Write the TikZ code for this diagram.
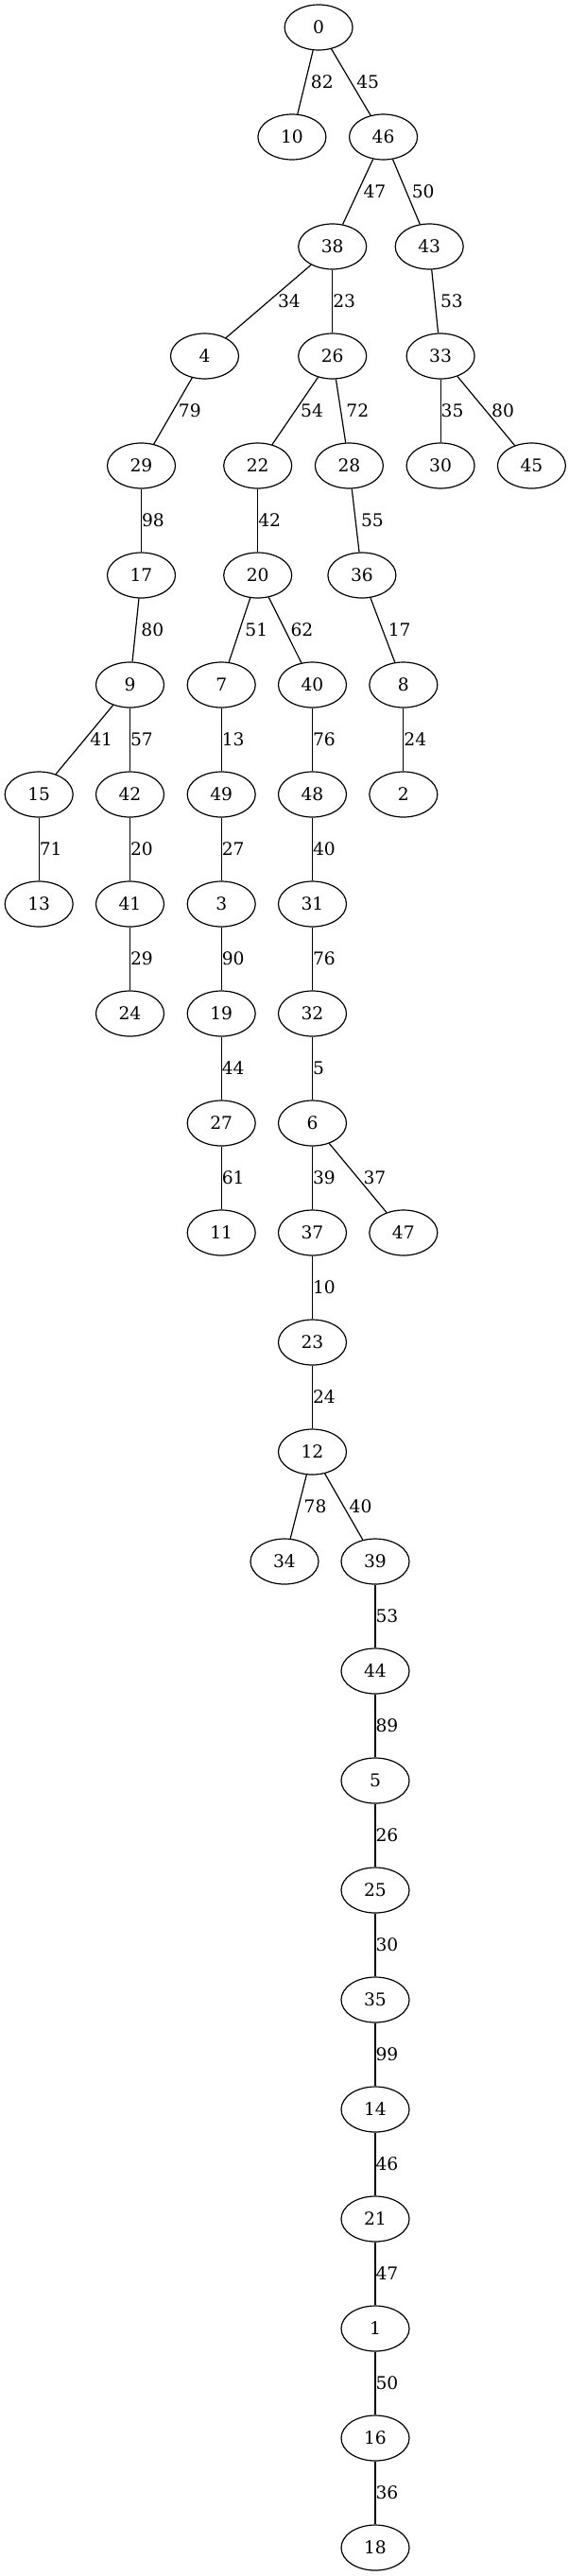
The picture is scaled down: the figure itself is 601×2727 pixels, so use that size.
\documentclass[tikz,border=0pt]{standalone}
\usepackage{fontspec}
\setmainfont{DejaVu Serif}
\usepackage{tikz}
\usetikzlibrary{shapes.geometric}
\tikzset{vert/.style={ellipse, draw=black, line width=0.9pt, minimum width=54pt, minimum height=36pt, inner sep=0pt, font=\fontsize{14}{17}\selectfont}}
\tikzset{link/.style={line width=0.9pt}}
\tikzset{wt/.style={anchor=west, inner sep=0pt, font=\fontsize{14}{17}\selectfont}}
\tikzset{wts/.style={wt, xshift=4pt}}

\begin{document}
\begin{tikzpicture}[x=0.75pt, y=-0.75pt]
  \useasboundingbox (0,0) rectangle (601,2727);

  \node[vert] (n0) at (337.1, 29) {0};
  \node[vert] (n10) at (308.9, 145) {10};
  \node[vert] (n46) at (405.6, 145) {46};
  \node[vert] (n38) at (351.7, 261) {38};
  \node[vert] (n43) at (454.2, 261) {43};
  \node[vert] (n4) at (216.5, 377) {4};
  \node[vert] (n26) at (351.7, 377) {26};
  \node[vert] (n33) at (466.1, 377) {33};
  \node[vert] (n29) at (149.5, 493) {29};
  \node[vert] (n22) at (272.7, 493) {22};
  \node[vert] (n28) at (369.4, 493) {28};
  \node[vert] (n30) at (466.1, 493) {30};
  \node[vert] (n45) at (562.4, 493) {45};
  \node[vert] (n17) at (149.5, 609) {17};
  \node[vert] (n20) at (272.7, 609) {20};
  \node[vert] (n36) at (382.9, 609) {36};
  \node[vert] (n9) at (137.5, 725) {9};
  \node[vert] (n7) at (234.2, 725) {7};
  \node[vert] (n40) at (330.5, 725) {40};
  \node[vert] (n8) at (426.8, 725) {8};
  \node[vert] (n15) at (41.2, 841) {15};
  \node[vert] (n42) at (137.5, 841) {42};
  \node[vert] (n49) at (234.2, 841) {49};
  \node[vert] (n48) at (330.5, 841) {48};
  \node[vert] (n2) at (426.8, 841) {2};
  \node[vert] (n13) at (41.2, 957) {13};
  \node[vert] (n41) at (137.5, 957) {41};
  \node[vert] (n3) at (234.2, 957) {3};
  \node[vert] (n31) at (330.5, 957) {31};
  \node[vert] (n24) at (137.5, 1073) {24};
  \node[vert] (n19) at (234.2, 1073) {19};
  \node[vert] (n32) at (330.5, 1073) {32};
  \node[vert] (n27) at (234.2, 1189) {27};
  \node[vert] (n6) at (330.5, 1189) {6};
  \node[vert] (n11) at (234.2, 1305) {11};
  \node[vert] (n37) at (330.5, 1305) {37};
  \node[vert] (n47) at (426.8, 1305) {47};
  \node[vert] (n23) at (330.5, 1421) {23};
  \node[vert] (n12) at (330.5, 1537) {12};
  \node[vert] (n34) at (301, 1653) {34};
  \node[vert] (n39) at (397, 1653) {39};
  \node[vert] (n44) at (397, 1769) {44};
  \node[vert] (n5) at (397, 1885) {5};
  \node[vert] (n25) at (397, 2001) {25};
  \node[vert] (n35) at (397, 2117) {35};
  \node[vert] (n14) at (397, 2233) {14};
  \node[vert] (n21) at (397, 2349) {21};
  \node[vert] (n1) at (397, 2465) {1};
  \node[vert] (n16) at (397, 2581) {16};
  \node[vert] (n18) at (397, 2697) {18};

  \draw[link] (n0) -- node[wts] {82} (n10);
  \draw[link] (n0) -- node[wts] {45} (n46);
  \draw[link] (n46) -- node[wts] {47} (n38);
  \draw[link] (n46) -- node[wts] {50} (n43);
  \draw[link] (n38) -- node[wts, xshift=3pt] {34} (n4);
  \draw[link] (n38) -- node[wt] {23} (n26);
  \draw[link] (n43) -- node[wts] {53} (n33);
  \draw[link] (n4) -- node[wts] {79} (n29);
  \draw[link] (n26) -- node[wts] {54} (n22);
  \draw[link] (n26) -- node[wts] {72} (n28);
  \draw[link] (n33) -- node[wt] {35} (n30);
  \draw[link] (n33) -- node[wts] {80} (n45);
  \draw[link] (n29) -- node[wt] {98} (n17);
  \draw[link] (n22) -- node[wt] {42} (n20);
  \draw[link] (n28) -- node[wts] {55} (n36);
  \draw[link] (n17) -- node[wts] {80} (n9);
  \draw[link] (n20) -- node[wts] {51} (n7);
  \draw[link] (n20) -- node[wts] {62} (n40);
  \draw[link] (n36) -- node[wts] {17} (n8);
  \draw[link] (n9) -- node[wts] {41} (n15);
  \draw[link] (n9) -- node[wt] {57} (n42);
  \draw[link] (n7) -- node[wt] {13} (n49);
  \draw[link] (n40) -- node[wt] {76} (n48);
  \draw[link] (n8) -- node[wt] {24} (n2);
  \draw[link] (n15) -- node[wt] {71} (n13);
  \draw[link] (n42) -- node[wt] {20} (n41);
  \draw[link] (n49) -- node[wt] {27} (n3);
  \draw[link] (n48) -- node[wt] {40} (n31);
  \draw[link] (n41) -- node[wt] {29} (n24);
  \draw[link] (n3) -- node[wt] {90} (n19);
  \draw[link] (n31) -- node[wt] {76} (n32);
  \draw[link] (n19) -- node[wt] {44} (n27);
  \draw[link] (n32) -- node[wt] {5} (n6);
  \draw[link] (n27) -- node[wt] {61} (n11);
  \draw[link] (n6) -- node[wt] {39} (n37);
  \draw[link] (n6) -- node[wts] {37} (n47);
  \draw[link] (n37) -- node[wt] {10} (n23);
  \draw[link] (n23) -- node[wt] {24} (n12);
  \draw[link] (n12) -- node[wts] {78} (n34);
  \draw[link] (n12) -- node[wts] {40} (n39);
  \draw[link] (n39) -- node[wt] {53} (n44);
  \draw[link] (n44) -- node[wt] {89} (n5);
  \draw[link] (n5) -- node[wt] {26} (n25);
  \draw[link] (n25) -- node[wt] {30} (n35);
  \draw[link] (n35) -- node[wt] {99} (n14);
  \draw[link] (n14) -- node[wt] {46} (n21);
  \draw[link] (n21) -- node[wt] {47} (n1);
  \draw[link] (n1) -- node[wt] {50} (n16);
  \draw[link] (n16) -- node[wt] {36} (n18);
\end{tikzpicture}
\end{document}
